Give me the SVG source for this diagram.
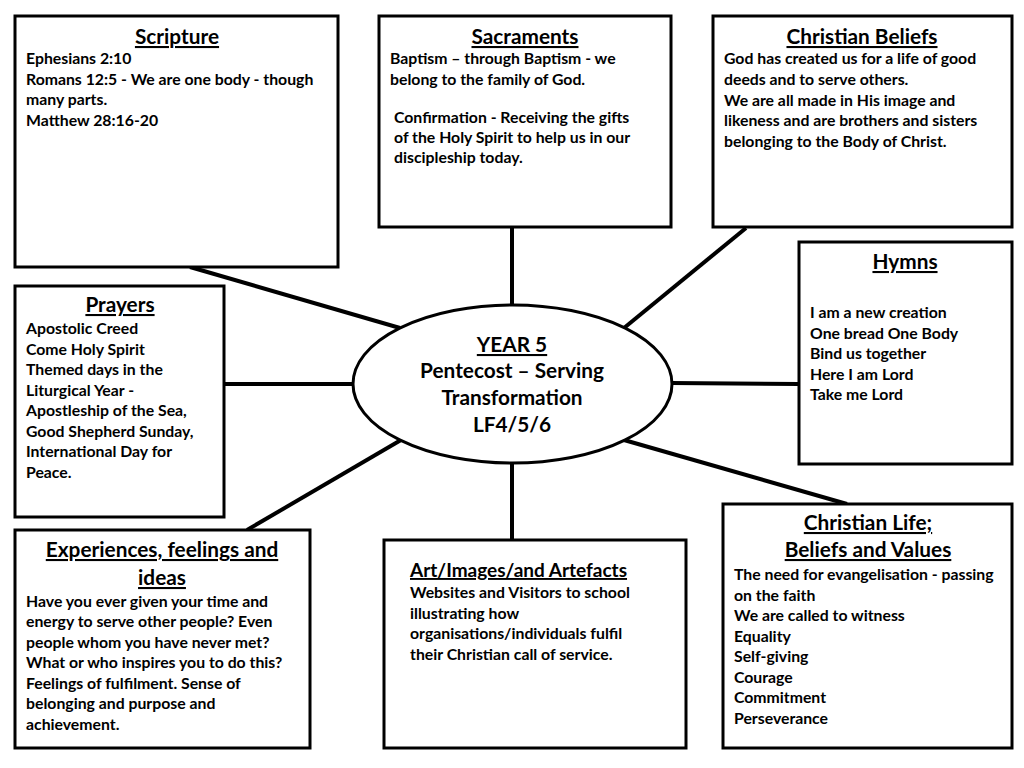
<svg xmlns="http://www.w3.org/2000/svg" width="1024" height="768" viewBox="0 0 1024 768">
<style>
.box{fill:#fff;stroke:#000;stroke-width:3}
.con{stroke:#000;stroke-width:4;fill:none}
text{font-family:Lato,"Open Sans","Liberation Sans",sans-serif;font-weight:bold;fill:#000}
.t{font-size:20.8px;text-decoration:underline;text-anchor:middle}
.ts{font-size:19px;text-decoration:underline;text-anchor:start}
.b{font-size:15.8px}
.c{font-size:20.8px;text-anchor:middle}
</style>
<rect width="1024" height="768" fill="#fff"/>
<g id="connectors">
<line class="con" x1="190" y1="267" x2="400" y2="328"/>
<line class="con" x1="512" y1="227" x2="512" y2="306"/>
<line class="con" x1="746" y1="228" x2="624" y2="328"/>
<line class="con" x1="671" y1="383" x2="799" y2="384"/>
<line class="con" x1="224" y1="384" x2="354" y2="384"/>
<line class="con" x1="247" y1="530" x2="401" y2="440"/>
<line class="con" x1="512" y1="462" x2="512" y2="540"/>
<line class="con" x1="624" y1="440" x2="847" y2="504"/>
</g>
<g id="scripture">
<rect class="box" x="15" y="16" width="323" height="251"/>
<text class="t" x="177" y="44">Scripture</text>
<text class="b" x="26" y="64">Ephesians 2:10</text>
<text class="b" x="26" y="85">Romans 12:5 - We are one body - though</text>
<text class="b" x="26" y="105">many parts.</text>
<text class="b" x="26" y="126">Matthew 28:16-20</text>
</g>
<g id="sacraments">
<rect class="box" x="379" y="16" width="292" height="211"/>
<text class="t" x="525" y="44">Sacraments</text>
<text class="b" x="390" y="64">Baptism – through Baptism - we</text>
<text class="b" x="390" y="85">belong to the family of God.</text>
<text class="b" x="394" y="123">Confirmation - Receiving the gifts</text>
<text class="b" x="394" y="143">of the Holy Spirit to help us in our</text>
<text class="b" x="394" y="163">discipleship today.</text>
</g>
<g id="christian-beliefs">
<rect class="box" x="713" y="16" width="299" height="211"/>
<text class="t" x="862" y="44">Christian Beliefs</text>
<text class="b" x="724" y="64">God has created us for a life of good</text>
<text class="b" x="724" y="85">deeds and to serve others.</text>
<text class="b" x="724" y="106">We are all made in His image and</text>
<text class="b" x="724" y="126">likeness and are brothers and sisters</text>
<text class="b" x="724" y="147">belonging to the Body of Christ.</text>
</g>
<g id="hymns">
<rect class="box" x="799" y="242" width="213" height="222"/>
<text class="t" x="905" y="269">Hymns</text>
<text class="b" x="810" y="318">I am a new creation</text>
<text class="b" x="810" y="339">One bread One Body</text>
<text class="b" x="810" y="359">Bind us together</text>
<text class="b" x="810" y="380">Here I am Lord</text>
<text class="b" x="810" y="400">Take me Lord</text>
</g>
<g id="prayers">
<rect class="box" x="15" y="286" width="209" height="231"/>
<text class="t" x="120" y="312">Prayers</text>
<text class="b" x="26" y="334">Apostolic Creed</text>
<text class="b" x="26" y="355">Come Holy Spirit</text>
<text class="b" x="26" y="375">Themed days in the</text>
<text class="b" x="26" y="396">Liturgical Year -</text>
<text class="b" x="26" y="416">Apostleship of the Sea,</text>
<text class="b" x="26" y="437">Good Shepherd Sunday,</text>
<text class="b" x="26" y="457">International Day for</text>
<text class="b" x="26" y="478">Peace.</text>
</g>
<g id="centre">
<ellipse cx="512.5" cy="384" rx="159.5" ry="79" fill="#fff" stroke="#000" stroke-width="3"/>
<text class="c" x="512" y="352" text-decoration="underline">YEAR 5</text>
<text class="c" x="512" y="378">Pentecost – Serving</text>
<text class="c" x="512" y="405">Transformation</text>
<text class="c" x="512" y="432">LF4/5/6</text>
</g>
<g id="experiences">
<rect class="box" x="15" y="530" width="295" height="218"/>
<text class="t" x="162" y="557">Experiences, feelings and</text>
<text class="t" x="162" y="585">ideas</text>
<text class="b" x="26" y="607">Have you ever given your time and</text>
<text class="b" x="26" y="627">energy to serve other people? Even</text>
<text class="b" x="26" y="648">people whom you have never met?</text>
<text class="b" x="26" y="668">What or who inspires you to do this?</text>
<text class="b" x="26" y="689">Feelings of fulfilment. Sense of</text>
<text class="b" x="26" y="709">belonging and purpose and</text>
<text class="b" x="26" y="730">achievement.</text>
</g>
<g id="art">
<rect class="box" x="384" y="540" width="302" height="208"/>
<text class="ts" x="410" y="577">Art/Images/and Artefacts</text>
<text class="b" x="410" y="598">Websites and Visitors to school</text>
<text class="b" x="410" y="619">illustrating how</text>
<text class="b" x="410" y="639">organisations/individuals fulfil</text>
<text class="b" x="410" y="660">their Christian call of service.</text>
</g>
<g id="christian-life">
<rect class="box" x="723" y="504" width="289" height="244"/>
<text class="t" x="868" y="530">Christian Life;</text>
<text class="t" x="868" y="557">Beliefs and Values</text>
<text class="b" x="734" y="580">The need for evangelisation - passing</text>
<text class="b" x="734" y="601">on the faith</text>
<text class="b" x="734" y="621">We are called to witness</text>
<text class="b" x="734" y="642">Equality</text>
<text class="b" x="734" y="662">Self-giving</text>
<text class="b" x="734" y="683">Courage</text>
<text class="b" x="734" y="703">Commitment</text>
<text class="b" x="734" y="724">Perseverance</text>
</g>
</svg>
